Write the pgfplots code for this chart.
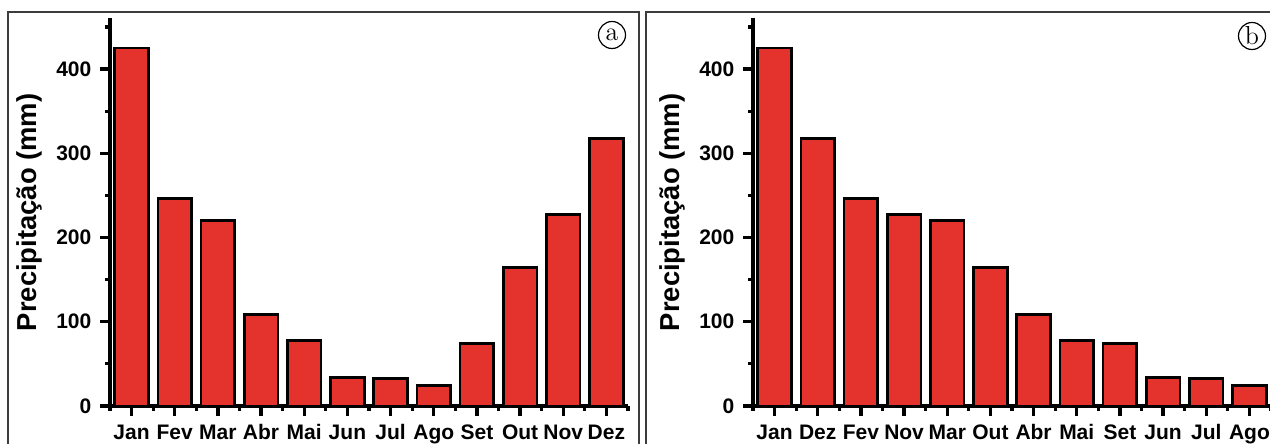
\documentclass[border=0pt]{standalone}
\usepackage{pgfplots}
\pgfplotsset{compat=1.18}
\usepackage{fontspec}
\newfontfamily\arial{Liberation Sans}
\definecolor{barred}{RGB}{228,50,45}
\definecolor{framegray}{RGB}{60,60,60}
\pgfplotsset{
  panel/.style={
    scale only axis, width=259pt, height=193.75pt,
    xmin=-0.5, xmax=11.5, ymin=0, ymax=460,
    axis lines=left,
    ytick={0,100,200,300,400}, minor ytick={50,150,250,350,450},
    xtick={0,1,2,3,4,5,6,7,8,9,10,11},
    minor xtick={-0.5,0.5,1.5,2.5,3.5,4.5,5.5,6.5,7.5,8.5,9.5,10.5,11.5},
    tick align=outside,
    major tick length=4.8pt, minor tick length=2.5pt,
    /pgf/number format/assume math mode=true,
    yticklabel style={font=\arial\bfseries\fontsize{10.5}{12}\selectfont, xshift=-1pt},
    xticklabel style={font=\arial\bfseries\fontsize{10.5}{12}\selectfont, text height=8pt, text depth=2.5pt, yshift=-0.3pt},
    ylabel={Precipitação (mm)},
    ylabel style={font=\arial\bfseries\fontsize{13.7}{15}\selectfont, at={(axis description cs:-0.156,0.5)}, anchor=center},
    clip=false,
  },
  bars/.style={ybar, bar width=0.78, fill=barred, draw=black, line width=1.4pt},
}
\begin{document}
\begin{tikzpicture}
\useasboundingbox (0pt,0pt) rectangle (635pt,222pt);
\clip (0pt,0pt) rectangle (635pt,222pt);
\draw[framegray, line width=0.7pt] (4pt,-10pt) rectangle (319.5pt,216pt);
\draw[framegray, line width=0.7pt] (323pt,-10pt) rectangle (660pt,216pt);
\begin{axis}[panel, at={(55pt,19pt)}, anchor=south west,
  axis line style={-, black, line width=2.2pt},
  tick style={black, line width=1.6pt},
  minor tick style={black, line width=1.6pt},
  xticklabels={Jan,Fev,Mar,Abr,Mai,Jun,Jul,Ago,Set,Out,Nov,Dez}]
\addplot[bars] coordinates {(0,425) (1,246) (2,220) (3,109) (4,78) (5,34) (6,33) (7,24) (8,74) (9,164) (10,227) (11,318)};
\end{axis}
\begin{axis}[panel, at={(376.5pt,19pt)}, anchor=south west,
  axis line style={-, black, line width=2.2pt},
  tick style={black, line width=1.6pt},
  minor tick style={black, line width=1.6pt},
  xticklabels={Jan,Dez,Fev,Nov,Mar,Out,Abr,Mai,Set,Jun,Jul,Ago}]
\addplot[bars] coordinates {(0,425) (1,318) (2,246) (3,227) (4,220) (5,164) (6,109) (7,78) (8,74) (9,34) (10,33) (11,24)};
\end{axis}
\node[draw=black, circle, line width=0.6pt, minimum size=13.5pt, inner sep=0pt, font=\fontsize{13}{13}\selectfont] at (306pt,204.5pt) {a};
\node[draw=black, circle, line width=0.6pt, minimum size=13.5pt, inner sep=0pt, font=\fontsize{13}{13}\selectfont] at (626pt,204pt) {b};
\end{tikzpicture}
\end{document}
